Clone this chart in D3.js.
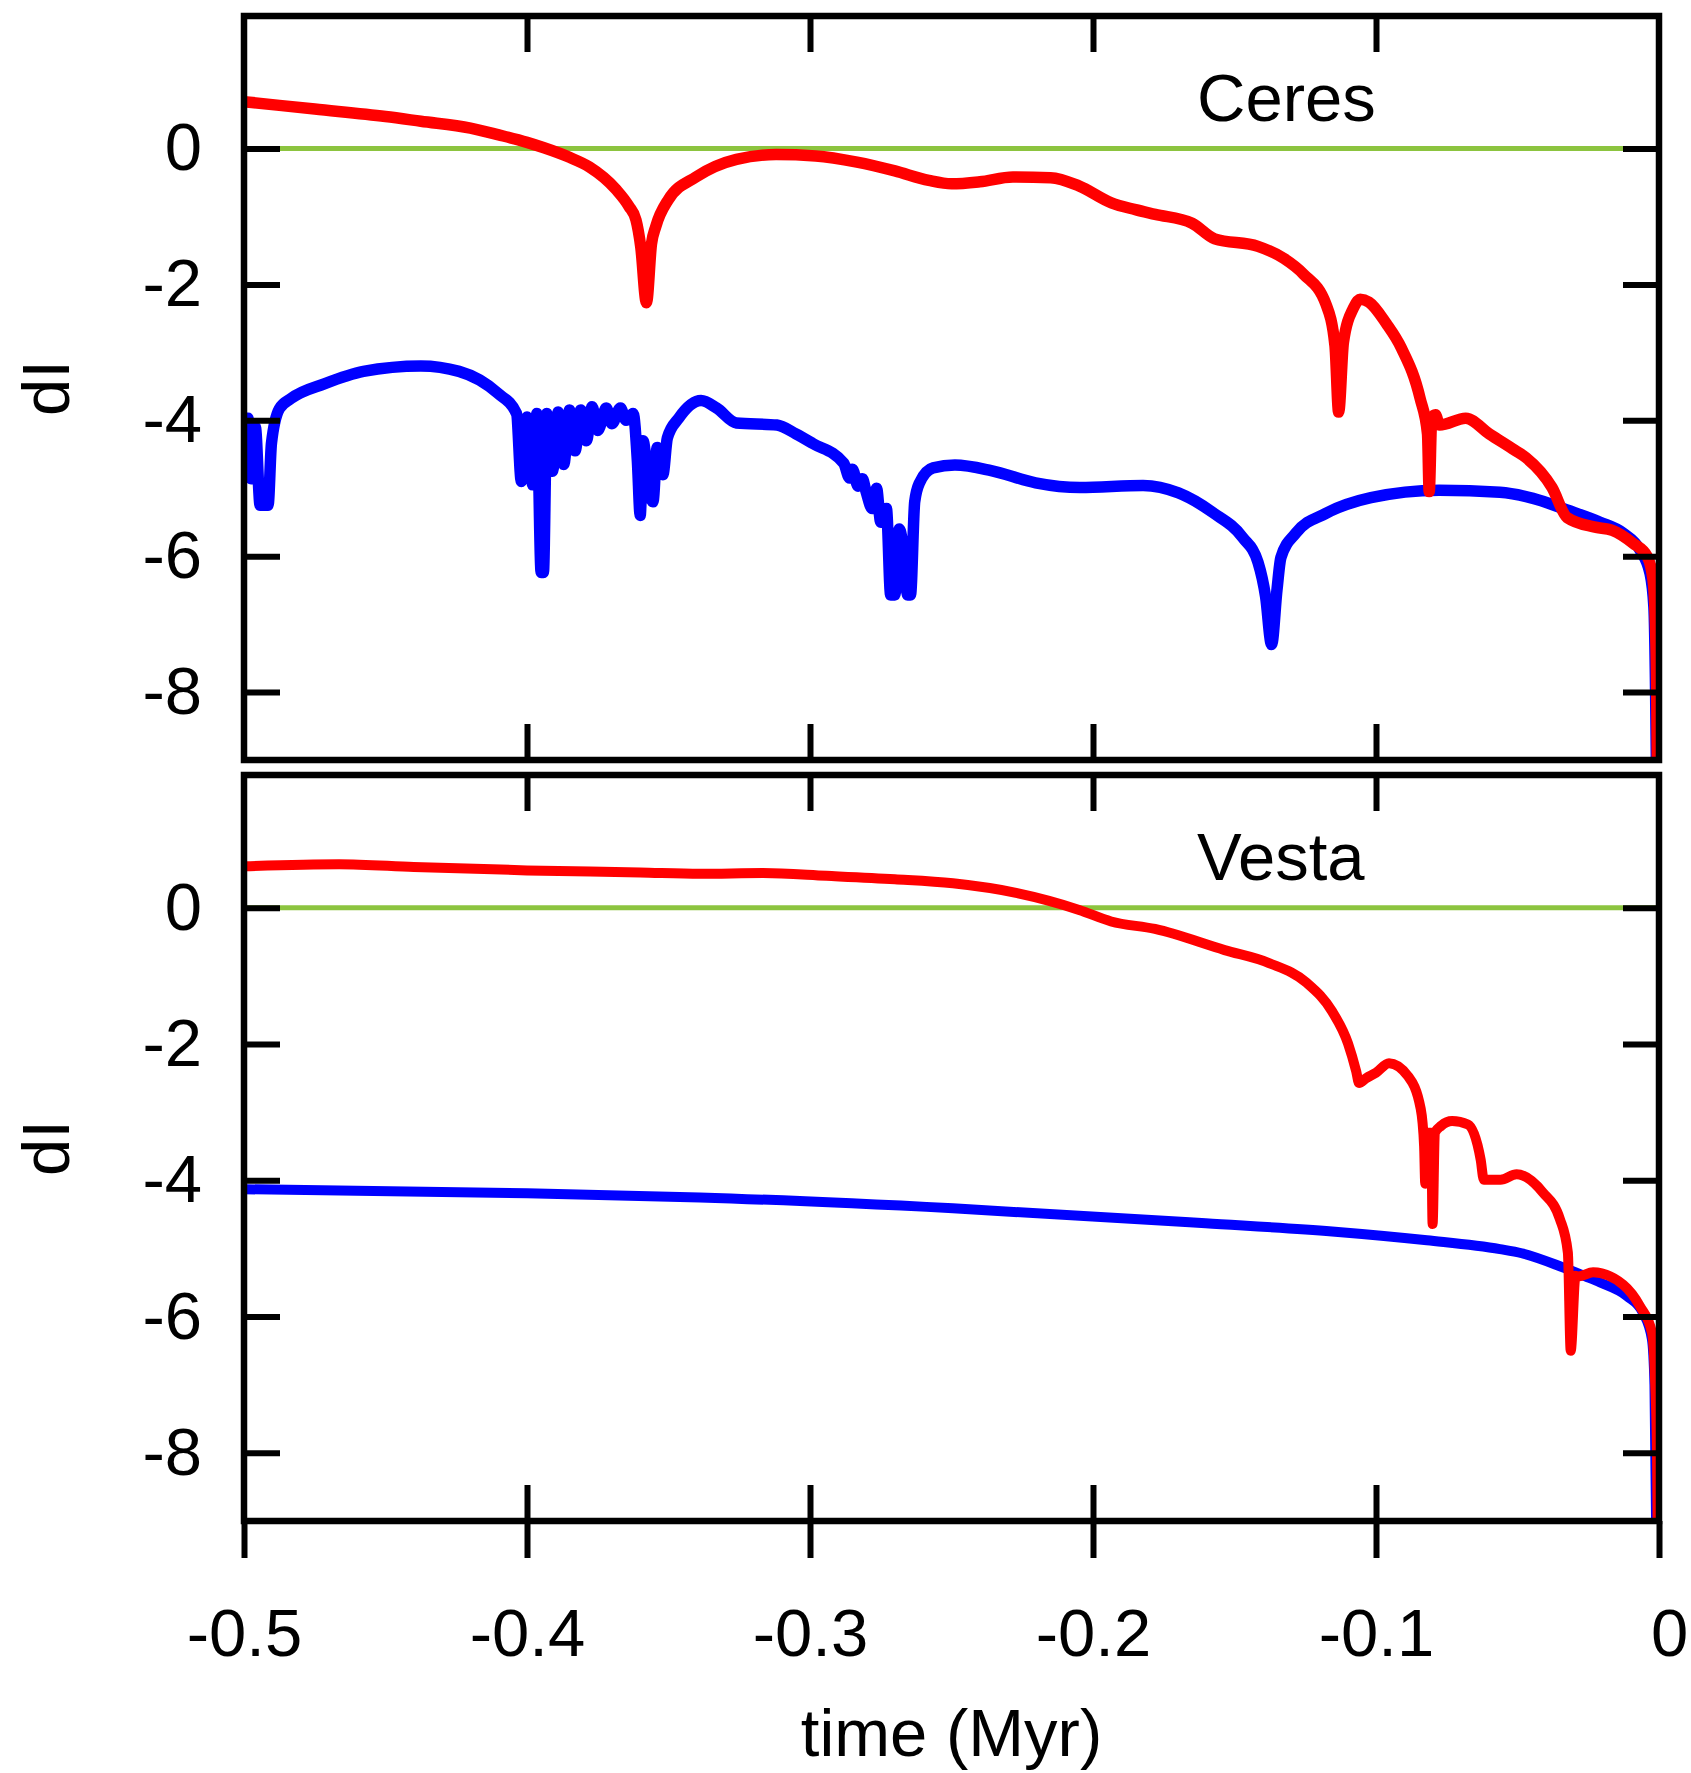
<!DOCTYPE html>
<html>
<head>
<meta charset="utf-8">
<script src="https://cdn.jsdelivr.net/npm/d3@7"></script>
<style>
  html, body { margin: 0; padding: 0; background: #fff; }
  svg { display: block; }
  text { font-family: "Liberation Sans", Arial, Helvetica, sans-serif; fill: #000; }
</style>
</head>
<body>
<svg id="chart" width="1691" height="1773"></svg>
<script>
// ---------------- data (time in Myr, dI in degrees) ----------------
const xTicks = [-0.5, -0.4, -0.3, -0.2, -0.1, 0];
const xTickLabels = ["-0.5", "-0.4", "-0.3", "-0.2", "-0.1", "0"];
const yTicks = [-8, -6, -4, -2, 0];
const yTickLabels = ["-8", "-6", "-4", "-2", "0"];
const panelNames = ["Ceres", "Vesta"];
const zeroLine = [[-0.5, 0], [0, 0]];

const ceresRed = [
  [-0.5, 0.69], [-0.475, 0.58], [-0.45, 0.47], [-0.4375, 0.40], [-0.42, 0.30], [-0.41, 0.20],
  [-0.40, 0.09], [-0.394, 0.01], [-0.385, -0.13], [-0.378, -0.27], [-0.3686, -0.60],
  [-0.3640, -0.85], [-0.3615, -1.05], [-0.3598, -1.45], [-0.3578, -2.27], [-0.3560, -1.40],
  [-0.3545, -1.15], [-0.350, -0.75], [-0.3403, -0.42], [-0.326, -0.16], [-0.312, -0.09],
  [-0.298, -0.11], [-0.2834, -0.20], [-0.27, -0.33], [-0.258, -0.47], [-0.25, -0.52],
  [-0.24, -0.49], [-0.2283, -0.42], [-0.215, -0.43], [-0.205, -0.55], [-0.1935, -0.80],
  [-0.185, -0.90], [-0.178, -0.97], [-0.165, -1.10], [-0.157, -1.33], [-0.1417, -1.44],
  [-0.1325, -1.62], [-0.1256, -1.85], [-0.1177, -2.29], [-0.1145, -2.90], [-0.1132, -3.88],
  [-0.1115, -2.85], [-0.108, -2.35], [-0.1056, -2.22], [-0.1025, -2.26], [-0.0963, -2.58],
  [-0.091, -2.94], [-0.0844, -3.68], [-0.0818, -4.20], [-0.0812, -5.05], [-0.0803, -3.97],
  [-0.0790, -3.92], [-0.0775, -4.07], [-0.0683, -3.97], [-0.060, -4.20], [-0.051, -4.44],
  [-0.047, -4.55], [-0.0378, -4.99], [-0.0325, -5.43], [-0.023, -5.57], [-0.0165, -5.62],
  [-0.0092, -5.81], [-0.0042, -6.00], [-0.0021, -6.35], [-0.0014, -6.84], [-0.0008, -8.0],
  [-0.0005, -9.5]
];

const ceresBlue = [
  [-0.5, -3.97], [-0.4986, -3.97], [-0.4975, -4.86], [-0.4960, -4.10], [-0.4943, -5.25],
  [-0.4915, -5.25], [-0.4903, -4.34], [-0.4875, -3.83], [-0.4834, -3.68], [-0.4714, -3.46],
  [-0.4578, -3.28], [-0.4375, -3.20], [-0.424, -3.28], [-0.4104, -3.60], [-0.4037, -3.90],
  [-0.402, -4.90], [-0.400, -3.95], [-0.398, -4.95], [-0.3965, -3.90], [-0.3950, -6.24],
  [-0.3942, -6.24], [-0.393, -3.90], [-0.391, -4.75], [-0.389, -3.88], [-0.387, -4.65],
  [-0.385, -3.85], [-0.383, -4.45], [-0.381, -3.85], [-0.379, -4.30], [-0.377, -3.80],
  [-0.375, -4.15], [-0.372, -3.82], [-0.370, -4.05], [-0.367, -3.82], [-0.365, -4.00],
  [-0.3625, -3.90], [-0.361, -4.60], [-0.360, -5.40], [-0.359, -4.30], [-0.357, -5.00],
  [-0.3555, -5.20], [-0.354, -4.40], [-0.352, -4.80], [-0.3504, -4.26], [-0.3464, -3.97],
  [-0.3385, -3.71], [-0.333, -3.82], [-0.326, -4.04], [-0.3117, -4.07], [-0.305, -4.20],
  [-0.2991, -4.34], [-0.2881, -4.63], [-0.2860, -4.85], [-0.2850, -4.72], [-0.2830, -4.97],
  [-0.2815, -4.86], [-0.2802, -5.05], [-0.278, -5.30],
  [-0.2765, -5.00], [-0.275, -5.50], [-0.273, -5.30], [-0.2715, -6.57], [-0.2700, -6.57],
  [-0.2685, -5.60], [-0.267, -5.90], [-0.2655, -6.57], [-0.2645, -6.57], [-0.2630, -5.20],
  [-0.2613, -4.92], [-0.2565, -4.70], [-0.2488, -4.66], [-0.236, -4.74], [-0.2203, -4.92],
  [-0.2046, -4.99], [-0.1823, -4.96], [-0.1698, -5.07], [-0.1576, -5.36], [-0.147, -5.73],
  [-0.1417, -6.09], [-0.139, -6.60], [-0.1369, -7.30], [-0.1350, -6.50], [-0.1336, -6.02],
  [-0.1283, -5.66], [-0.1177, -5.37], [-0.1018, -5.14], [-0.0777, -5.03], [-0.0562, -5.06],
  [-0.0445, -5.15], [-0.0325, -5.32], [-0.0208, -5.50], [-0.0127, -5.66], [-0.0067, -5.91],
  [-0.0032, -6.25], [-0.0018, -6.75], [-0.0012, -8.0], [-0.0008, -9.5]
];

const vestaRed = [
  [-0.5, 0.61], [-0.4664, 0.64], [-0.44, 0.60], [-0.4, 0.55], [-0.36, 0.52], [-0.3389, 0.50],
  [-0.3166, 0.51], [-0.2942, 0.47], [-0.27, 0.42], [-0.2495, 0.36], [-0.2272, 0.22],
  [-0.2049, -0.03], [-0.1936, -0.20], [-0.1781, -0.31], [-0.1535, -0.62], [-0.1378, -0.81],
  [-0.1245, -1.10], [-0.1155, -1.52], [-0.1099, -1.99], [-0.107, -2.40], [-0.1060, -2.57],
  [-0.1035, -2.50], [-0.1, -2.42], [-0.0954, -2.28], [-0.0887, -2.47], [-0.0842, -2.95],
  [-0.0830, -3.50], [-0.0826, -4.05], [-0.0815, -3.30], [-0.0805, -3.30], [-0.0800, -4.64],
  [-0.0792, -3.30], [-0.0770, -3.20], [-0.0731, -3.13], [-0.0675, -3.18], [-0.063, -3.70],
  [-0.0619, -3.99], [-0.0560, -3.99], [-0.0503, -3.91], [-0.041, -4.18], [-0.035, -4.57],
  [-0.0322, -5.06], [-0.0312, -6.50], [-0.0295, -5.40], [-0.0285, -5.41], [-0.0233, -5.35],
  [-0.0127, -5.53], [-0.0067, -5.85], [-0.0025, -6.23], [-0.0014, -6.92], [-0.0007, -8.0],
  [-0.0004, -9.5]
];

const vestaBlue = [
  [-0.5, -4.13], [-0.4, -4.19], [-0.3389, -4.25], [-0.2495, -4.41], [-0.1602, -4.63],
  [-0.1155, -4.75], [-0.082, -4.88], [-0.0562, -5.01], [-0.0485, -5.07], [-0.035, -5.26],
  [-0.026, -5.41], [-0.0208, -5.50], [-0.0113, -5.70], [-0.0057, -5.94], [-0.0025, -6.33],
  [-0.0016, -7.0], [-0.0009, -9.5]
];

// ---------------- layout ----------------
const svg = d3.select("#chart");
const W = 1691, H = 1773;
svg.append("rect").attr("width", W).attr("height", H).attr("fill", "#fff");

const left = 244, right = 1659;
const panels = [
  { top: 16, bottom: 760, name: panelNames[0], red: ceresRed, blue: ceresBlue, lw: 11.5, nameY: 121 },
  { top: 775, bottom: 1521, name: panelNames[1], red: vestaRed, blue: vestaBlue, lw: 10, nameY: 880 }
];
const FONT = 67;
const RED = "#ff0000", BLUE = "#0000ff", GREEN = "#8cc43f";

const x = d3.scaleLinear().domain([-0.5, 0]).range([left, right]);

panels.forEach((p, i) => {
  const y = d3.scaleLinear().domain([-9, 1.95]).range([p.bottom, p.top]);
  const g = svg.append("g");
  const clipId = "clip" + i;
  g.append("clipPath").attr("id", clipId)
    .append("rect").attr("x", left).attr("y", p.top)
    .attr("width", right - left).attr("height", p.bottom - p.top);

  const line = d3.line().x(d => x(d[0])).y(d => y(d[1])).curve(d3.curveMonotoneX);
  const data = g.append("g").attr("clip-path", `url(#${clipId})`);
  data.append("path").datum(zeroLine).attr("d", line)
    .attr("fill", "none").attr("stroke", GREEN).attr("stroke-width", 5);
  data.append("path").datum(p.blue).attr("d", line)
    .attr("fill", "none").attr("stroke", BLUE).attr("stroke-width", p.lw)
    .attr("stroke-linejoin", "miter").attr("stroke-miterlimit", 2);
  data.append("path").datum(p.red).attr("d", line)
    .attr("fill", "none").attr("stroke", RED).attr("stroke-width", p.lw)
    .attr("stroke-linejoin", "miter").attr("stroke-miterlimit", 2);

  // axes (drawn over the data)
  const tickLen = 36;
  const yLeft = d3.axisLeft(y).tickValues(yTicks)
    .tickFormat((d, k) => yTickLabels[k]).tickSizeInner(-tickLen).tickSizeOuter(0).tickPadding(42);
  const yRight = d3.axisRight(y).tickValues(yTicks)
    .tickFormat("").tickSizeInner(-tickLen).tickSizeOuter(0);
  const xTop = d3.axisTop(x).tickValues(xTicks.slice(1, -1))
    .tickFormat("").tickSizeInner(-tickLen).tickSizeOuter(0);
  const xBotIn = d3.axisBottom(x).tickValues(xTicks.slice(1, -1))
    .tickFormat("").tickSizeInner(-tickLen).tickSizeOuter(0);

  const styleAxis = sel => {
    sel.select(".domain").remove();
    sel.selectAll(".tick line").attr("stroke", "#000").attr("stroke-width", 6);
    sel.selectAll("text").attr("font-size", FONT).attr("font-family", "Liberation Sans, Arial, sans-serif").attr("fill", "#000");
  };
  g.append("g").attr("transform", `translate(${left},0)`).call(yLeft).call(styleAxis);
  g.append("g").attr("transform", `translate(${right},0)`).call(yRight).call(styleAxis);
  g.append("g").attr("transform", `translate(0,${p.top})`).call(xTop).call(styleAxis);
  g.append("g").attr("transform", `translate(0,${p.bottom})`).call(xBotIn).call(styleAxis);

  if (i === 1) {
    const xBotOut = d3.axisBottom(x).tickValues(xTicks)
      .tickFormat((d, k) => xTickLabels[k]).tickSizeInner(37).tickSizeOuter(0).tickPadding(50);
    const ax = g.append("g").attr("transform", `translate(0,${p.bottom})`).call(xBotOut).call(styleAxis);
    ax.selectAll(".tick text").filter(d => d === 0).attr("dx", 10);
  }

  // frame
  g.append("rect").attr("x", left).attr("y", p.top)
    .attr("width", right - left).attr("height", p.bottom - p.top)
    .attr("fill", "none").attr("stroke", "#000").attr("stroke-width", 6.5);

  // panel name
  g.append("text").attr("x", 1197).attr("y", p.nameY)
    .attr("font-size", FONT).text(p.name);

  // y axis title
  g.append("text")
    .attr("transform", `translate(69,${(p.top + p.bottom) / 2}) rotate(-90)`)
    .attr("text-anchor", "middle").attr("font-size", FONT).text("dI");
});

svg.append("text").attr("x", (left + right) / 2 + 0).attr("y", 1756)
  .attr("text-anchor", "middle").attr("font-size", FONT).text("time (Myr)");
</script>
</body>
</html>
